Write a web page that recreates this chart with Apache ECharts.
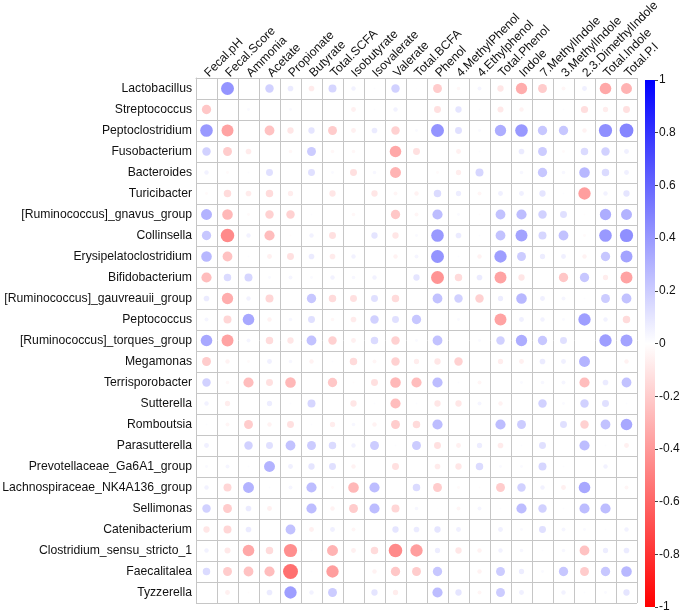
<!DOCTYPE html>
<html>
<head>
<meta charset="utf-8">
<script src="https://cdn.jsdelivr.net/npm/echarts@6/dist/echarts.min.js"></script>
<style>
  html, body { margin: 0; padding: 0; background: #fff; }
  #chart { width: 680px; height: 610px; }
</style>
</head>
<body>
<div id="chart"></div>
<script>
const bacteria = [
  "Lactobacillus", "Streptococcus", "Peptoclostridium", "Fusobacterium", "Bacteroides",
  "Turicibacter", "[Ruminococcus]_gnavus_group", "Collinsella", "Erysipelatoclostridium",
  "Bifidobacterium", "[Ruminococcus]_gauvreauii_group", "Peptococcus", "[Ruminococcus]_torques_group",
  "Megamonas", "Terrisporobacter", "Sutterella", "Romboutsia", "Parasutterella",
  "Prevotellaceae_Ga6A1_group", "Lachnospiraceae_NK4A136_group", "Sellimonas", "Catenibacterium",
  "Clostridium_sensu_stricto_1", "Faecalitalea", "Tyzzerella"
];
const metabolites = [
  "Fecal.pH", "Fecal.Score", "Ammonia", "Acetate", "Propionate", "Butyrate", "Total.SCFA",
  "Isobutyrate", "Isovalerate", "Valerate", "Total.BCFA", "Phenol", "4.MethylPhenol",
  "4.Ethylphenol", "Total.Phenol", "Indole", "7.MethylIndole", "3.MethylIndole",
  "2.3.DimethylIndole", "Total.Indole", "Total.P.I"
];
const colorbarTicks = [-1, -0.8, -0.6, -0.4, -0.2, 0, 0.2, 0.4, 0.6, 0.8, 1];

// correlation values, one array per genus (same order as metabolites)
const lactobacillus   = [0, 0.42, 0, 0.18, 0.08, -0.08, 0.16, 0.05, 0.01, 0.18, 0.005, -0.2, -0.03, 0.04, -0.1, -0.32, -0.2, -0.04, 0.06, -0.34, -0.3];
const streptococcus   = [-0.22, 0, 0.02, 0, 0.02, 0, 0, -0.06, 0.01, 0.05, 0, -0.12, 0.1, 0.01, -0.09, -0.05, 0.005, 0.01, -0.13, -0.07, -0.12];
const peptoclostridium = [0.4, -0.36, 0, -0.24, -0.1, 0.1, -0.2, -0.06, 0.08, -0.18, 0.02, 0.42, 0.12, 0.02, 0.32, 0.4, 0.22, 0.22, -0.05, 0.44, 0.48];
const fusobacterium   = [0.18, -0.2, -0.08, 0, -0.03, 0.2, -0.03, -0.03, 0, -0.34, -0.12, 0, -0.06, 0.01, 0, 0.08, 0.2, -0.02, 0.14, 0.18, 0.06];
const bacteroides     = [0.05, -0.02, 0.01, 0.12, 0, 0.12, 0.02, -0.12, 0.03, -0.3, 0, -0.02, -0.07, 0.16, 0, 0.03, 0.22, 0.03, 0.28, 0.14, 0.06];
const turicibacter    = [-0.02, -0.14, -0.08, -0.14, -0.07, 0, -0.1, 0, -0.1, -0.04, -0.05, 0.14, 0.07, -0.04, 0.06, 0.06, 0.1, 0.01, -0.38, 0.05, 0.1];
const gnavus          = [0.3, -0.28, -0.02, -0.18, -0.18, 0.01, 0, -0.03, 0, -0.22, -0.04, 0.26, 0.02, -0.01, 0.24, 0.26, 0.18, 0.12, -0.01, 0.32, 0.3];
const collinsella     = [0.22, -0.46, 0.05, -0.26, -0.01, 0.05, -0.12, 0, 0.1, -0.1, 0.02, 0.4, 0.08, 0.01, 0.24, 0.36, 0.16, 0.24, -0.02, 0.4, 0.44];
const erysipelato     = [0.28, -0.24, 0.01, -0.06, -0.12, 0.08, -0.08, 0.05, 0, -0.05, 0.04, 0.42, 0.01, -0.05, 0.38, 0.2, 0.07, 0.06, -0.05, 0.22, 0.36];
const bifidobacterium = [-0.26, 0.14, 0.16, 0.02, 0.04, 0.02, 0.05, 0.03, 0.05, 0, 0.1, -0.42, -0.14, 0.08, -0.36, -0.1, 0, -0.22, 0.22, -0.07, -0.36];
const gauvreauii      = [0.08, -0.32, 0.05, -0.16, 0, 0.22, -0.14, -0.12, 0.12, -0.14, 0, 0.24, 0.18, -0.18, 0.07, 0.28, 0.06, 0.04, 0.01, 0.2, 0.24];
const peptococcus     = [0.04, -0.16, 0.34, -0.05, 0.03, 0.12, -0.03, -0.08, 0.18, 0.12, 0.22, 0, 0.02, 0, -0.36, 0.06, 0.05, 0.02, 0.38, 0.05, -0.14];
const torques         = [0.34, -0.36, 0.04, -0.14, -0.1, 0.24, -0.18, -0.06, 0.14, -0.18, 0.02, 0.24, 0, 0.02, 0.18, 0.32, 0.22, 0.12, 0, 0.38, 0.36];
const megamonas       = [-0.2, -0.05, -0.02, 0.06, 0.03, -0.05, 0.01, -0.14, -0.04, -0.18, -0.07, -0.1, -0.18, 0, -0.07, -0.06, 0.08, 0.06, 0.3, 0, -0.05];
const terrisporobacter = [0.18, -0.03, -0.26, -0.12, -0.28, 0, -0.22, -0.01, -0.12, -0.28, -0.26, 0.26, 0.01, -0.04, 0, 0.02, 0.03, 0.04, -0.26, 0.08, 0.24];
const sutterella      = [0.05, -0.07, 0, 0.07, 0.01, 0.16, 0, -0.1, 0.01, -0.26, 0.01, -0.1, -0.1, 0.04, -0.05, 0, 0.18, 0.02, 0.18, 0.12, 0.01];
const romboutsia      = [0.01, -0.04, -0.2, -0.05, -0.12, 0.01, -0.07, 0.03, -0.05, -0.2, -0.14, 0.26, 0, 0.005, 0.26, 0.2, 0, 0.12, -0.18, 0.24, 0.34];
const parasutterella  = [0.06, 0, 0.18, 0.12, 0.24, 0.2, 0.14, 0.05, 0.2, 0.01, 0.2, -0.12, -0.06, 0.07, -0.08, 0.01, 0.12, 0, 0.26, 0.01, -0.06];
const prevotellaceae  = [0.02, 0.04, 0.01, 0.3, 0.06, 0.1, 0.12, -0.05, 0, -0.12, 0, -0.08, -0.1, 0.14, 0.02, 0.02, 0.16, 0.01, 0, 0.05, 0];
const lachnospiraceae = [0.05, -0.16, 0.3, 0.01, 0.04, 0.26, -0.02, -0.28, 0.26, 0, 0.14, -0.2, -0.02, -0.01, -0.2, 0.18, 0.05, -0.06, 0.34, 0, -0.04];
const sellimonas      = [0.18, -0.2, 0.08, -0.06, 0.005, 0.26, -0.05, -0.2, 0.26, -0.16, 0.03, 0.005, -0.04, 0.04, 0.01, 0.26, 0.18, 0.01, 0.26, 0.26, 0];
const catenibacterium = [-0.1, -0.16, 0.08, 0.005, 0.24, -0.06, 0.06, -0.04, 0, 0.1, 0.08, 0.1, 0.06, 0, 0.06, 0.02, 0.12, 0.04, 0.02, 0.01, 0.05];
const clostridium     = [0.05, -0.09, -0.34, -0.14, -0.44, 0.01, -0.3, -0.06, -0.14, -0.46, -0.38, 0.07, -0.1, -0.05, 0.05, 0.03, 0.01, 0.03, -0.24, 0.07, 0.08];
const faecalitalea    = [0.14, -0.2, -0.24, -0.26, -0.56, 0.01, -0.38, 0, -0.05, -0.22, -0.2, 0.22, 0, -0.05, 0.2, 0.07, 0.02, 0.22, -0.2, 0.22, 0.28];
const tyzzerella      = [0, -0.06, -0.01, 0.08, 0.38, 0.05, 0.2, 0, 0.1, -0.07, 0, 0.26, 0.1, -0.04, 0.2, 0.06, 0, 0.05, 0.01, 0.02, 0.1];

const corrRows = [
  lactobacillus, streptococcus, peptoclostridium, fusobacterium, bacteroides, turicibacter,
  gnavus, collinsella, erysipelato, bifidobacterium, gauvreauii, peptococcus, torques,
  megamonas, terrisporobacter, sutterella, romboutsia, parasutterella, prevotellaceae,
  lachnospiraceae, sellimonas, catenibacterium, clostridium, faecalitalea, tyzzerella
];

const points = [];
corrRows.forEach((row, i) => {
  row.forEach((v, j) => {
    if (v !== 0) points.push([j, i, v]);
  });
});

const FONT = '"Liberation Sans", Arial, sans-serif';
const CELL = 21;
const lineColor = '#c6c6c6';

const chart = echarts.init(document.getElementById('chart'));
chart.setOption({
  animation: false,
  backgroundColor: '#fff',
  textStyle: { fontFamily: FONT },
  grid: [
    { left: 196, top: 78, width: 441, height: 525, outerBoundsMode: 'none' },
    { left: 645, top: 80, width: 10, height: 527, outerBoundsMode: 'none' }
  ],
  xAxis: [
    {
      type: 'category',
      gridIndex: 0,
      position: 'top',
      data: metabolites,
      axisLine: { show: true, lineStyle: { color: lineColor } },
      axisTick: { show: false },
      axisLabel: {
        interval: 0, rotate: -45, margin: 3,
        fontSize: 12.2, color: '#111', fontFamily: FONT
      },
      splitLine: { show: true, interval: 0, lineStyle: { color: lineColor, width: 1 } }
    },
    {
      type: 'category', gridIndex: 1, data: ['bar'], show: false
    }
  ],
  yAxis: [
    {
      type: 'category',
      gridIndex: 0,
      inverse: true,
      data: bacteria,
      axisLine: { show: true, lineStyle: { color: lineColor } },
      axisTick: { show: false },
      axisLabel: { interval: 0, margin: 4, fontSize: 12.2, color: '#111', fontFamily: FONT },
      splitLine: { show: true, interval: 0, lineStyle: { color: lineColor, width: 1 } }
    },
    {
      type: 'value',
      gridIndex: 1,
      position: 'right',
      min: -1, max: 1, interval: 0.2,
      axisLine: { show: false },
      axisTick: { show: true, length: 3, lineStyle: { color: '#444' } },
      axisLabel: {
        margin: 4, fontSize: 12, color: '#111', fontFamily: FONT,
        formatter: v => {
          const r = Math.round(v * 10) / 10;
          return colorbarTicks.indexOf(r) >= 0 ? String(r) : '';
        }
      },
      splitLine: { show: false }
    }
  ],
  visualMap: {
    show: false,
    type: 'continuous',
    seriesIndex: 0,
    dimension: 2,
    min: -1, max: 1,
    inRange: { color: ['#ff0000', '#ffffff', '#0000ff'] }
  },
  series: [
    {
      type: 'scatter',
      xAxisIndex: 0, yAxisIndex: 0,
      data: points,
      symbol: 'circle',
      symbolSize: d => CELL * 0.95 * Math.sqrt(Math.abs(d[2])),
      itemStyle: { opacity: 1 }
    },
    {
      type: 'custom',
      xAxisIndex: 1, yAxisIndex: 1,
      data: [[0, -1, 1]],
      renderItem: (params, api) => {
        const top = api.coord([0, api.value(2)]);
        const bottom = api.coord([0, api.value(1)]);
        const w = api.size([1, 0])[0];
        return {
          type: 'rect',
          shape: { x: top[0] - w / 2, y: top[1], width: w, height: bottom[1] - top[1] },
          style: {
            fill: new echarts.graphic.LinearGradient(0, 0, 0, 1, [
              { offset: 0, color: '#0000ff' },
              { offset: 0.5, color: '#ffffff' },
              { offset: 1, color: '#ff0000' }
            ])
          }
        };
      }
    }
  ]
});
</script>
</body>
</html>
